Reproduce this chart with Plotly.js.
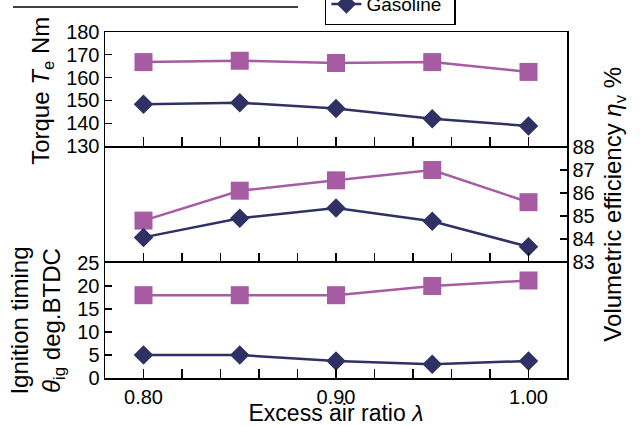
<!DOCTYPE html>
<html>
<head>
<meta charset="utf-8">
<script src="https://cdn.plot.ly/plotly-3.0.1.min.js"></script>
<style>html,body{margin:0;padding:0;background:#fff;}#chart{width:643px;height:426px;}</style>
</head>
<body>
<div id="chart"></div>
<script>
// Data
const lambdaX = [0.80, 0.85, 0.90, 0.95, 1.00];
const torqueH = [166.8, 167.4, 166.4, 166.8, 162.5];
const torqueG = [148.3, 149.0, 146.4, 142.0, 138.8];
const volEffH = [84.8, 86.1, 86.55, 87.0, 85.6];
const volEffG = [84.07, 84.9, 85.35, 84.77, 83.66];
const ignH = [18, 18, 18, 20, 21.2];
const ignG = [5, 5, 3.7, 3, 3.7];
const seriesNames = ['Hydrogen', 'Gasoline'];
const xMajorTicks = [0.80, 0.90, 1.00];
const xMajorText = ['0.80', '0.90', '1.00'];
const xMinorTicks = [0.82, 0.84, 0.86, 0.88, 0.92, 0.94, 0.96, 0.98];
const torqueTicks = [130, 140, 150, 160, 170, 180];
const volTicks = [83, 84, 85, 86, 87, 88];
const ignTicks = [0, 5, 10, 15, 20, 25];

const purple = '#A65BA2';
const navy = '#2F3064';
const FONT = 'Arial, "Liberation Sans", Helvetica, sans-serif';

function pair(yH, yG, xa, ya, legend) {
  return [
    {x: lambdaX, y: yH, xaxis: xa, yaxis: ya, name: seriesNames[0], showlegend: legend,
     mode: 'lines+markers', line: {color: purple, width: 2.5},
     marker: {symbol: 'square', size: 18, color: purple}},
    {x: lambdaX, y: yG, xaxis: xa, yaxis: ya, name: seriesNames[1], showlegend: legend,
     mode: 'lines+markers', line: {color: navy, width: 2.5},
     marker: {symbol: 'diamond', size: 15, color: navy}}
  ];
}

const data = [].concat(
  pair(torqueH, torqueG, 'x3', 'y3', true),
  pair(volEffH, volEffG, 'x2', 'y2', false),
  pair(ignH, ignG, 'x', 'y', false)
);

const xBase = {
  range: [0.78, 1.02], tickmode: 'array', tickvals: xMajorTicks, ticktext: xMajorText,
  ticks: 'inside', ticklen: 9, tickwidth: 1.2, tickcolor: '#000',
  minor: {tickmode: 'array', tickvals: xMinorTicks, ticks: 'inside', ticklen: 9, tickwidth: 1.2, tickcolor: '#000'},
  showline: true, linecolor: '#000', linewidth: 1.5, mirror: true,
  showgrid: false, zeroline: false
};
const yBase = {
  ticks: 'inside', ticklen: 7, tickwidth: 1.2, tickcolor: '#000',
  showline: true, linecolor: '#000', linewidth: 1.5, mirror: true,
  showgrid: false, zeroline: false, tickmode: 'array'
};

const layout = {
  width: 643, height: 426,
  margin: {l: 105, r: 76, t: 32, b: 48, autoexpand: false},
  paper_bgcolor: '#fff', plot_bgcolor: '#fff',
  font: {family: FONT, size: 20, color: '#000'},
  showlegend: true,
  legend: {x: 0.476, xanchor: 'left', y: 1.0202, yanchor: 'bottom',
           bgcolor: '#fff', bordercolor: '#000', borderwidth: 1.5,
           font: {family: FONT, size: 19, color: '#000'}, tracegroupgap: 0},
  xaxis: Object.assign({}, xBase, {anchor: 'y', showticklabels: true,
    tickfont: {family: FONT, size: 20},
    title: {text: 'Excess air ratio <i>λ</i>', font: {family: FONT, size: 23}, standoff: 4}}),
  xaxis2: Object.assign({}, xBase, {anchor: 'y2', matches: 'x', showticklabels: false}),
  xaxis3: Object.assign({}, xBase, {anchor: 'y3', matches: 'x', showticklabels: false}),
  yaxis: Object.assign({}, yBase, {domain: [0, 0.3324], range: [0, 25], tickvals: ignTicks,
    side: 'left', tickfont: {family: FONT, size: 20}}),
  yaxis2: Object.assign({}, yBase, {domain: [0.3353, 0.6676], range: [83, 88], tickvals: volTicks,
    side: 'right', anchor: 'x2', tickfont: {family: FONT, size: 20}}),
  yaxis3: Object.assign({}, yBase, {domain: [0.6705, 1], range: [130, 180], tickvals: torqueTicks,
    side: 'left', anchor: 'x3', tickfont: {family: FONT, size: 20}}),
  annotations: [
    {text: 'Torque <i>T</i><sub>e</sub> Nm', xref: 'paper', yref: 'paper',
     x: (43 - 105) / 462, y: 0.83, xanchor: 'center', yanchor: 'middle',
     textangle: -90, showarrow: false, font: {family: FONT, size: 24}},
    {text: 'Ignition timing<br><i>θ</i><sub>ig</sub> deg.BTDC', xref: 'paper', yref: 'paper',
     x: (37 - 105) / 462, y: 0.166, xanchor: 'center', yanchor: 'middle',
     textangle: -90, showarrow: false, font: {family: FONT, size: 24}},
    {text: 'Volumetric efficiency <i>η</i><sub>v</sub> %', xref: 'paper', yref: 'paper',
     x: (615 - 105) / 462, y: 0.501, xanchor: 'center', yanchor: 'middle',
     textangle: -90, showarrow: false, font: {family: FONT, size: 24}}
  ],
  shapes: [
    {type: 'line', xref: 'paper', yref: 'paper', x0: (13 - 105) / 462, x1: (298 - 105) / 462,
     y0: 1 + 25 / 346, y1: 1 + 25 / 346, line: {color: '#000', width: 1.5}}
  ]
};

Plotly.newPlot('chart', data, layout, {staticPlot: true, displayModeBar: false});
</script>
</body>
</html>
